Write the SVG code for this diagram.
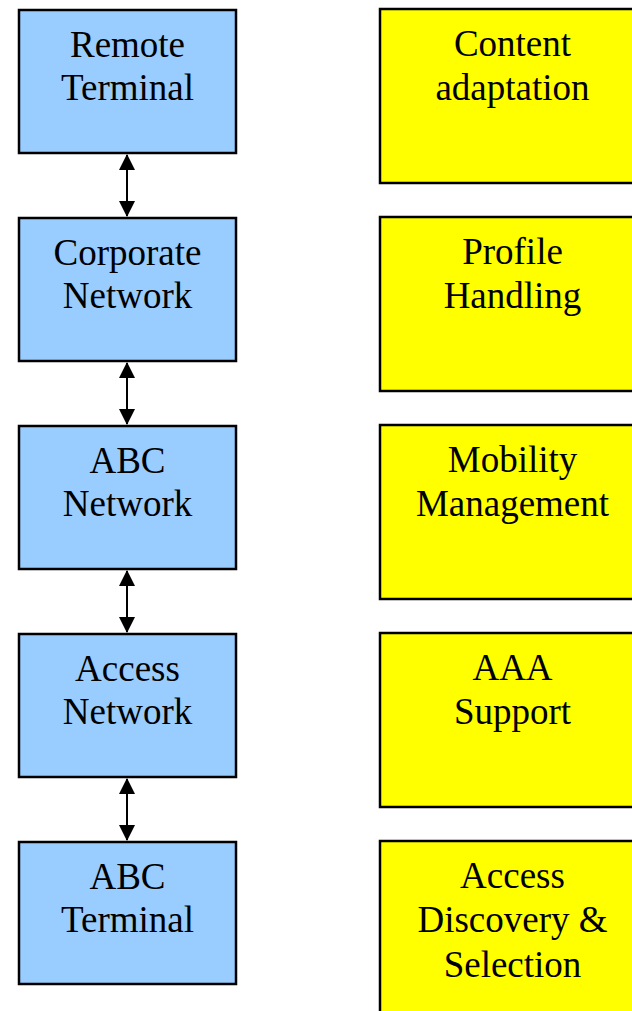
<svg xmlns="http://www.w3.org/2000/svg" width="632" height="1011" viewBox="0 0 632 1011">
<style>
.l{fill:#99CCFF;stroke:#000;stroke-width:2.5}
.r{fill:#FFFF00;stroke:#000;stroke-width:2.5}
text{font-family:"Liberation Serif","Times New Roman",serif;font-size:37px;fill:#000;text-anchor:middle}
.c{stroke:#000;stroke-width:2;fill:none}
</style>
<defs>
<marker id="ah" markerUnits="userSpaceOnUse" markerWidth="16" markerHeight="16" viewBox="0 0 16 16" refX="15" refY="8" orient="auto-start-reverse">
<path d="M0,0 L16,8 L0,16 Z" fill="#000"/>
</marker>
</defs>
<g id="remote-terminal"><rect class="l" x="19" y="10" width="217" height="143"/><text x="127.5" y="57">Remote</text><text x="127.5" y="100">Terminal</text></g>
<g id="corporate-network"><rect class="l" x="19" y="218" width="217" height="143"/><text x="127.5" y="265">Corporate</text><text x="127.5" y="308">Network</text></g>
<g id="abc-network"><rect class="l" x="19" y="426" width="217" height="143"/><text x="127.5" y="473">ABC</text><text x="127.5" y="516">Network</text></g>
<g id="access-network"><rect class="l" x="19" y="634" width="217" height="143"/><text x="127.5" y="681">Access</text><text x="127.5" y="724">Network</text></g>
<g id="abc-terminal"><rect class="l" x="19" y="842" width="217" height="142"/><text x="127.5" y="889">ABC</text><text x="127.5" y="932">Terminal</text></g>
<g id="content-adaptation"><rect class="r" x="380" y="9" width="280" height="174"/><text x="512.5" y="56">Content</text><text x="512.5" y="100">adaptation</text></g>
<g id="profile-handling"><rect class="r" x="380" y="217" width="280" height="174"/><text x="512.5" y="264">Profile</text><text x="512.5" y="308">Handling</text></g>
<g id="mobility-management"><rect class="r" x="380" y="425" width="280" height="174"/><text x="512.5" y="472">Mobility</text><text x="512.5" y="516">Management</text></g>
<g id="aaa-support"><rect class="r" x="380" y="633" width="280" height="174"/><text x="512.5" y="680">AAA</text><text x="512.5" y="724">Support</text></g>
<g id="access-discovery-selection"><rect class="r" x="380" y="841" width="280" height="200"/><text x="512.5" y="888">Access</text><text x="512.5" y="932">Discovery &amp;</text><text x="512.5" y="977">Selection</text></g>
<g id="connectors">
<line class="c" x1="127" y1="155" x2="127" y2="216" marker-start="url(#ah)" marker-end="url(#ah)"/>
<line class="c" x1="127" y1="363" x2="127" y2="424" marker-start="url(#ah)" marker-end="url(#ah)"/>
<line class="c" x1="127" y1="571" x2="127" y2="632" marker-start="url(#ah)" marker-end="url(#ah)"/>
<line class="c" x1="127" y1="779" x2="127" y2="840" marker-start="url(#ah)" marker-end="url(#ah)"/>
</g>
</svg>
